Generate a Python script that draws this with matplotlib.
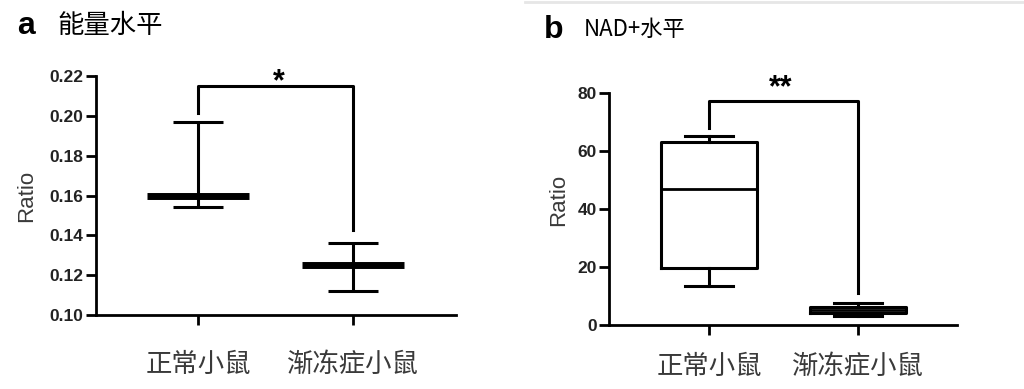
import matplotlib
matplotlib.use("Agg")
import matplotlib.pyplot as plt
from matplotlib.lines import Line2D

plt.rcParams['font.family'] = ['Liberation Sans', 'Noto Sans CJK SC', 'DejaVu Sans']

groups = ['正常小鼠', '渐冻症小鼠']

# panel a: mean with range
energy_mean = [0.160, 0.125]
energy_hi = [0.197, 0.136]
energy_lo = [0.154, 0.112]

# panel b: box plot stats
nad_whislo = [13.5, 3.2]
nad_q1 = [19.5, 4.1]
nad_med = [47.0, 5.2]
nad_q3 = [63.0, 6.2]
nad_whishi = [65.0, 7.5]

cjk = ['Noto Sans CJK SC', 'DejaVu Sans']
lab_col = '#3a3a3a'

fig = plt.figure(figsize=(10.24, 3.89), dpi=100)
axa = fig.add_axes([96/1024, 1-315/389, 360/1024, 239/389])
axb = fig.add_axes([609/1024, 1-325/389, 348/1024, 232/389])

x = [0, 1]

# ---- panel a
for i in x:
    axa.plot([i-0.33, i+0.33], [energy_mean[i]]*2, color='black', lw=5, solid_capstyle='butt')
    axa.errorbar(i, energy_mean[i],
                 yerr=[[energy_mean[i]-energy_lo[i]], [energy_hi[i]-energy_mean[i]]],
                 fmt='none', ecolor='black', elinewidth=2.2, capsize=18, capthick=2.2)
axa.set_ylim(0.10, 0.22)
axa.set_yticks([0.10, 0.12, 0.14, 0.16, 0.18, 0.20, 0.22])
axa.set_yticklabels(['%.2f' % v for v in axa.get_yticks()])
axa.set_xlim(-0.662, 1.669)

# bracket
axa.plot([0, 0, 1, 1], [0.2014, 0.2151, 0.2151, 0.1427], color='black', lw=2.2, clip_on=False)
axa.text(0.52, 0.2170, '*', ha='center', va='center', fontsize=22, fontweight='bold')

# ---- panel b
stats = []
for i in x:
    stats.append(dict(whislo=nad_whislo[i], q1=nad_q1[i], med=nad_med[i],
                      q3=nad_q3[i], whishi=nad_whishi[i], fliers=[]))
axb.bxp(stats, positions=x, widths=0.65, capwidths=0.32, showfliers=False,
        boxprops=dict(color='black', lw=2.2),
        medianprops=dict(color='black', lw=2.0),
        whiskerprops=dict(color='black', lw=2.2),
        capprops=dict(color='black', lw=2.2))
axb.set_ylim(0, 80)
axb.set_yticks([0, 20, 40, 60, 80])
axb.set_xlim(-0.671, 1.664)

axb.plot([0, 0, 1, 1], [68, 77.2, 77.2, 11], color='black', lw=2.2, clip_on=False)
axb.text(0.48, 81.8, '**', ha='center', va='center', fontsize=22, fontweight='bold')

for ax, pad in ((axa, 19), (axb, 13)):
    for s in ('top', 'right'):
        ax.spines[s].set_visible(False)
    for s in ('left', 'bottom'):
        ax.spines[s].set_linewidth(2.0)
    ax.tick_params(axis='both', length=7, width=2.0, direction='out')
    ax.tick_params(axis='y', pad=2, labelsize=12.5)
    ax.set_xticks(x)
    ax.set_xticklabels(groups, family=cjk, fontsize=19, color=lab_col)
    ax.tick_params(axis='x', pad=pad)
    for t in ax.get_yticklabels():
        t.set_fontweight('bold')
        t.set_color('#222222')
    ax.set_ylabel('Ratio', fontsize=16, color=lab_col)

axa.yaxis.set_label_coords(-0.164, 0.50)
axb.yaxis.set_label_coords(-0.115, 0.54)

# titles
fig.text(17/1024, 1-26/389, 'a', fontsize=23, fontweight='bold', va='center', ha='left')
fig.text(57/1024, 1-25/389, '能量水平', family=cjk, fontsize=19, va='center', ha='left')
fig.text(544/1024, 1-30/389, 'b', fontsize=23, fontweight='bold', va='center', ha='left')
fig.text(584/1024, 1-29/389, 'NAD+水平', family=cjk, fontsize=16, va='center', ha='left')

fig.add_artist(Line2D([525/1024, 1], [1-1.5/389]*2, color='#e6e6e6', lw=2))

fig.savefig('out.png', dpi=100)
